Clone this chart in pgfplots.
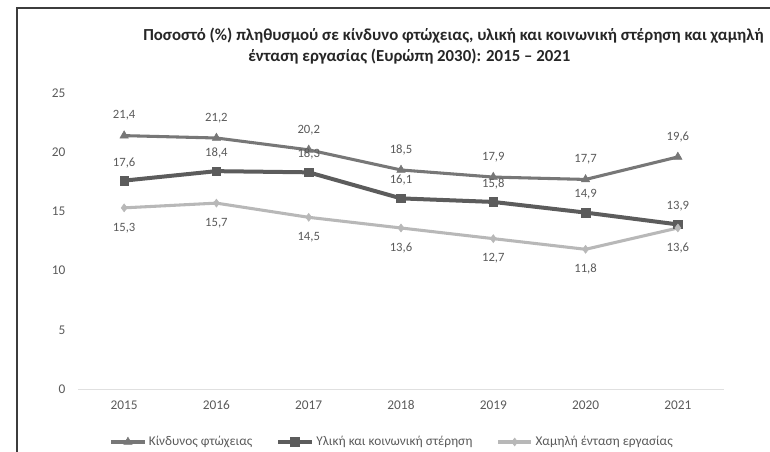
\documentclass[border=0pt]{standalone}
\usepackage{fontspec}
\setmainfont{Carlito}
\usepackage{pgfplots}
\pgfplotsset{compat=1.18}
\definecolor{poverty}{HTML}{777777}
\definecolor{depriv}{HTML}{5C5C5C}
\definecolor{lowwork}{HTML}{B8B8B8}
\definecolor{lbl}{HTML}{5A5A5A}
\definecolor{frame}{HTML}{3C3C3C}
\begin{document}
\begin{tikzpicture}
% page = 770 x 451 px, 1px = 0.75pt
\useasboundingbox (0,0) rectangle (577.5pt,338.25pt);
\draw[frame, line width=1.6pt] (12.75pt,-5pt) -- (12.75pt,332.25pt) -- (590pt,332.25pt);
\node[anchor=base west, inner sep=0pt, font=\fontsize{12.6}{14}\selectfont\bfseries, text=black!85]
  at (107.25pt,308.25pt) {Ποσοστό (\%) πληθυσμού σε κίνδυνο φτώχειας, υλική και κοινωνική στέρηση και χαμηλή};
\node[anchor=base west, inner sep=0pt, font=\fontsize{12.6}{14}\selectfont\bfseries, text=black!85]
  at (186pt,291.75pt) {ένταση εργασίας (Ευρώπη 2030): 2015 – 2021};
\begin{axis}[
    at={(58.5pt,46.5pt)}, anchor=south west,
    scale only axis,
    width=484.5pt, height=222pt,
    xmin=2014.5, xmax=2021.5,
    ymin=0, ymax=25,
    xtick={2015,2016,...,2021},
    ytick={0,5,...,25},
    axis x line*=bottom, axis y line*=left,
    x axis line style={draw=black!12, line width=0.6pt, -},
    y axis line style={draw=none},
    major tick length=0pt,
    /pgf/number format/assume math mode=true,
    x tick label style={/pgf/number format/1000 sep={}, font=\fontsize{10}{12}\selectfont, text=lbl, yshift=-5pt},
    y tick label style={font=\fontsize{10}{12}\selectfont, text=lbl, xshift=-6pt},
    nodes near coords,
    every node near coord/.append style={
        font=\fontsize{9.5}{11}\selectfont, text=lbl, anchor=center,
        /pgf/number format/fixed, /pgf/number format/fixed zerofill,
        /pgf/number format/precision=1, /pgf/number format/use comma,
        /pgf/number format/assume math mode=true},
    legend columns=3,
    legend style={at={(0.487,-0.179)}, anchor=center, draw=none, fill=none,
        font=\fontsize{10}{12}\selectfont, text=lbl,
        /tikz/every even column/.append style={column sep=16pt},
        inner sep=0pt},
    legend image code/.code={
        \draw[mark repeat=2, mark phase=2] plot coordinates {(0pt,0pt) (12.5pt,0pt) (25pt,0pt)};},
]
\addplot[poverty, line width=2.3pt, mark=triangle*, mark size=3.6pt,
    mark options={solid, line width=0.4pt},
    every node near coord/.append style={yshift=15pt}]
  coordinates {(2015,21.4) (2016,21.2) (2017,20.2) (2018,18.5) (2019,17.9) (2020,17.7) (2021,19.6)};
\addlegendentry{Κίνδυνος φτώχειας}
\addplot[depriv, line width=3pt, mark=square*, mark size=3.2pt,
    mark options={solid, line width=0.4pt},
    every node near coord/.append style={yshift=13.5pt}]
  coordinates {(2015,17.6) (2016,18.4) (2017,18.3) (2018,16.1) (2019,15.8) (2020,14.9) (2021,13.9)};
\addlegendentry{Υλική και κοινωνική στέρηση}
\addplot[lowwork, line width=2.3pt, mark=diamond*, mark size=3pt,
    mark options={solid, line width=0.4pt},
    every node near coord/.append style={yshift=-15pt}]
  coordinates {(2015,15.3) (2016,15.7) (2017,14.5) (2018,13.6) (2019,12.7) (2020,11.8) (2021,13.6)};
\addlegendentry{Χαμηλή ένταση εργασίας}
\end{axis}
\end{tikzpicture}
\end{document}
